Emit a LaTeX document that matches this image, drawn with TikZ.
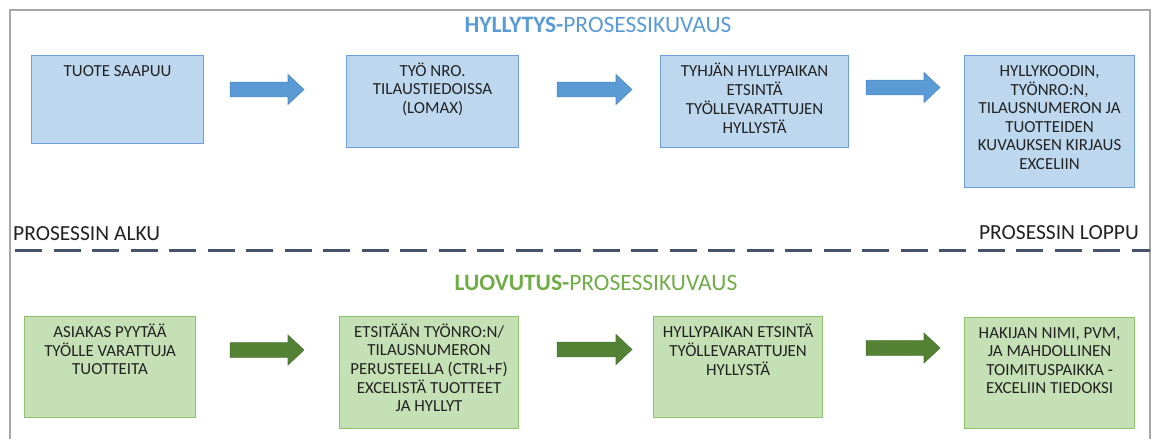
\documentclass[tikz,border=0pt]{standalone}
\usepackage{fontspec}
\setmainfont{Carlito}
\usetikzlibrary{calc}

\definecolor{boxblue}{HTML}{BDD7EE}
\definecolor{edgeblue}{HTML}{6F9FD8}
\definecolor{arrowblue}{HTML}{5B9BD5}
\definecolor{arrowblueedge}{HTML}{4F8CC9}
\definecolor{boxgreen}{HTML}{C5E0B4}
\definecolor{edgegreen}{HTML}{8CC36A}
\definecolor{arrowgreen}{HTML}{548235}
\definecolor{arrowgreenedge}{HTML}{4A7530}
\definecolor{titlegreen}{HTML}{70AD47}
\definecolor{divider}{HTML}{44546A}
\definecolor{framegray}{HTML}{A6A6A6}
\definecolor{ink}{HTML}{222222}

% block arrow from #1 to #2 (same height), fill style #3
\newcommand\blockarrow[3]{%
  \path[#3] let \p1=(#1), \p2=(#2) in
    (\x1,\y1-7.3) -- (\x2-16,\y1-7.3) -- (\x2-16,\y1-15) -- (\x2,\y1)
    -- (\x2-16,\y1+15) -- (\x2-16,\y1+7.3) -- (\x1,\y1+7.3) -- cycle;}

% centred lines whose baseline is the first line's baseline
\newcommand\boxlines[1]{{\setlength\tabcolsep{0pt}\renewcommand\arraystretch{1}%
  \begin{tabular}[t]{c}#1\end{tabular}}}

\begin{document}
\begin{tikzpicture}[x=1pt,y=-1pt,
  bluebox/.style={draw=edgeblue, fill=boxblue, line width=1.2pt, inner sep=0pt, anchor=north west},
  greenbox/.style={draw=edgegreen, fill=boxgreen, line width=1.2pt, inner sep=0pt, anchor=north west},
  boxtext/.style={anchor=base, inner sep=0pt, text=ink,
    font=\fontsize{16.9}{18.6}\selectfont},
  bluearrow/.style={fill=arrowblue, draw=arrowblueedge, line width=0.6pt},
  greenarrow/.style={fill=arrowgreen, draw=arrowgreenedge, line width=0.6pt},
  heading/.style={anchor=base, inner sep=0pt, font=\fontsize{23.5}{28}\selectfont},
  sidelabel/.style={inner sep=0pt, text=ink, font=\fontsize{21.5}{26}\selectfont},
]
\useasboundingbox (0,0) rectangle (1157,439);

% outer frame
\draw[framegray, line width=2pt] (10,439) -- (10,10) -- (1150,10) -- (1150,439);

% headings
\node[heading, text=arrowblue] (htop) at (598,32) {\textbf{HYLLYTYS-}PROSESSIKUVAUS};
\node[heading, text=titlegreen] (hbot) at (596,290) {\textbf{LUOVUTUS-}PROSESSIKUVAUS};

% start / end labels and divider
\node[sidelabel, anchor=base west] (start) at (13,240) {PROSESSIN ALKU};
\node[sidelabel, anchor=base east] (end) at (1139,239) {PROSESSIN LOPPU};
\coordinate (divl) at (15,250);
\coordinate (divr) at (1150,250);
\draw[divider, line width=3pt, dash pattern=on 27pt off 11.5pt] (divl) -- (divr);

% shelving process boxes
\node[bluebox, minimum width=172, minimum height=88] (b1) at (31,55) {};
\node[bluebox, minimum width=172, minimum height=92] (b2) at (346,55) {};
\node[bluebox, minimum width=188, minimum height=92] (b3) at (660,55) {};
\node[bluebox, minimum width=170, minimum height=132] (b4) at (964,55) {};

\node[boxtext] (tb1) at ($(b1.north)+(0,21)$) {\boxlines{TUOTE SAAPUU}};
\node[boxtext] (tb2) at ($(b2.north)+(0,21)$) {\boxlines{TYÖ NRO.\\TILAUSTIEDOISSA\\(LOMAX)}};
\node[boxtext] (tb3) at ($(b3.north)+(0,21)$) {\boxlines{TYHJÄN HYLLYPAIKAN\\ETSINTÄ\\TYÖLLEVARATTUJEN\\HYLLYSTÄ}};
\node[boxtext] (tb4) at ($(b4.north)+(0,21)$) {\boxlines{HYLLYKOODIN,\\TYÖNRO:N,\\TILAUSNUMERON JA\\TUOTTEIDEN\\KUVAUKSEN KIRJAUS\\EXCELIIN}};

% handover process boxes
\node[greenbox, minimum width=171, minimum height=101] (g1) at (24,316) {};
\node[greenbox, minimum width=179, minimum height=112] (g2) at (339,316) {};
\node[greenbox, minimum width=169, minimum height=101] (g3) at (653,316) {};
\node[greenbox, minimum width=170, minimum height=111] (g4) at (964,317) {};

\node[boxtext] (tg1) at ($(g1.north)+(0,21)$) {\boxlines{ASIAKAS PYYTÄÄ\\TYÖLLE VARATTUJA\\TUOTTEITA}};
\node[boxtext] (tg2) at ($(g2.north)+(0,21)$) {\boxlines{ETSITÄÄN TYÖNRO:N/\\TILAUSNUMERON\\PERUSTEELLA (CTRL+F)\\EXCELISTÄ TUOTTEET\\JA HYLLYT}};
\node[boxtext] (tg3) at ($(g3.north)+(0,21)$) {\boxlines{HYLLYPAIKAN ETSINTÄ\\TYÖLLEVARATTUJEN\\HYLLYSTÄ}};
\node[boxtext] (tg4) at ($(g4.north)+(0,21)$) {\boxlines{HAKIJAN NIMI, PVM,\\JA MAHDOLLINEN\\TOIMITUSPAIKKA -\\EXCELIIN TIEDOKSI}};

% arrows between the shelving steps
\coordinate (ab1s) at ($(b1.north east)+(26,34.5)$);
\coordinate (ab1e) at ($(b2.north west)+(-42,34.5)$);
\coordinate (ab2s) at ($(b2.north east)+(38,34.5)$);
\coordinate (ab2e) at ($(b3.north west)+(-28,34.5)$);
\coordinate (ab3s) at ($(b3.north east)+(17,32.5)$);
\coordinate (ab3e) at ($(b4.north west)+(-24,32.5)$);
\blockarrow{ab1s}{ab1e}{bluearrow}
\blockarrow{ab2s}{ab2e}{bluearrow}
\blockarrow{ab3s}{ab3e}{bluearrow}

% arrows between the handover steps
\coordinate (ag1s) at ($(g1.north east)+(34,34)$);
\coordinate (ag1e) at ($(g2.north west)+(-35,34)$);
\coordinate (ag2s) at ($(g2.north east)+(38,33.5)$);
\coordinate (ag2e) at ($(g3.north west)+(-21,33.5)$);
\coordinate (ag3s) at ($(g3.north east)+(43,32)$);
\coordinate (ag3e) at ($(g4.north west)+(-24,31)$);
\blockarrow{ag1s}{ag1e}{greenarrow}
\blockarrow{ag2s}{ag2e}{greenarrow}
\blockarrow{ag3s}{ag3e}{greenarrow}
\end{tikzpicture}
\end{document}
